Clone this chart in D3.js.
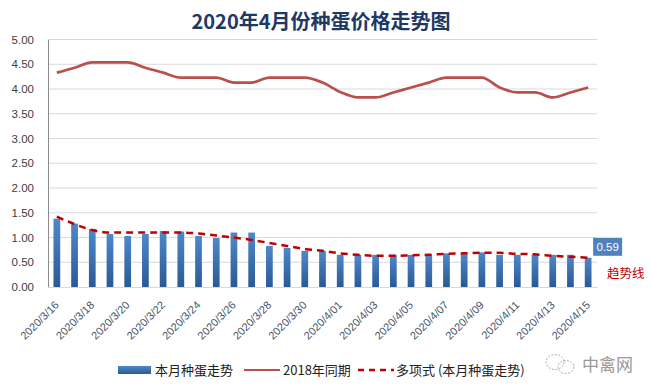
<!DOCTYPE html>
<html><head><meta charset="utf-8">
<script src="https://cdn.jsdelivr.net/npm/d3@7/dist/d3.min.js"></script>
<style>html,body{margin:0;padding:0;background:#fff;}svg{display:block;}</style>
</head><body>
<script>
const dates = ["2020/3/16","2020/3/17","2020/3/18","2020/3/19","2020/3/20","2020/3/21","2020/3/22","2020/3/23","2020/3/24","2020/3/25","2020/3/26","2020/3/27","2020/3/28","2020/3/29","2020/3/30","2020/3/31","2020/4/01","2020/4/02","2020/4/03","2020/4/04","2020/4/05","2020/4/06","2020/4/07","2020/4/08","2020/4/09","2020/4/10","2020/4/11","2020/4/12","2020/4/13","2020/4/14","2020/4/15"];
const thisMonth = [1.38,1.28,1.17,1.07,1.03,1.07,1.13,1.12,1.03,0.99,1.10,1.10,0.83,0.79,0.73,0.73,0.65,0.65,0.65,0.65,0.65,0.65,0.68,0.67,0.70,0.65,0.65,0.65,0.65,0.65,0.59];
const sameTime2018 = [4.33,4.43,4.54,4.54,4.54,4.43,4.33,4.23,4.23,4.23,4.13,4.13,4.23,4.23,4.23,4.13,3.94,3.83,3.83,3.93,4.03,4.13,4.23,4.23,4.23,4.03,3.93,3.93,3.83,3.93,4.03];
const trend = [1.42,1.27,1.15,1.10,1.10,1.10,1.10,1.10,1.08,1.04,1.00,0.95,0.89,0.83,0.77,0.73,0.68,0.65,0.63,0.63,0.64,0.65,0.67,0.68,0.69,0.69,0.67,0.66,0.63,0.61,0.59];
const yTicks = [0,0.5,1,1.5,2,2.5,3,3.5,4,4.5,5];
const seriesNames = ["本月种蛋走势","2018年同期","多项式 (本月种蛋走势)"];
const title = "2020年4月份种蛋价格走势图";

const W = 651, H = 391;
const svg = d3.select("body").append("svg").attr("width", W).attr("height", H);
const defs = svg.append("defs");
const grad = defs.append("linearGradient").attr("id","barGrad").attr("x1",0).attr("y1",0).attr("x2",0).attr("y2",1);
grad.append("stop").attr("offset","0%").attr("stop-color","#4e88cb");
grad.append("stop").attr("offset","100%").attr("stop-color","#2a5a93");
const gradL = defs.append("linearGradient").attr("id","legGrad").attr("x1",0).attr("y1",0).attr("x2",0).attr("y2",1);
gradL.append("stop").attr("offset","0%").attr("stop-color","#4e88cb");
gradL.append("stop").attr("offset","100%").attr("stop-color","#2a5a93");

const L = 48, R = 597, T = 39.5, B = 287;
const x = d3.scaleBand().domain(dates).range([L, R]).paddingInner(0.62).paddingOuter(0.31);
const y = d3.scaleLinear().domain([0, 5]).range([B, T]);
const cx = d => x(d) + x.bandwidth()/2;

// title
svg.append("text").attr("x", 321).attr("y", 29).attr("text-anchor","middle")
  .attr("font-family","'Noto Sans CJK SC',sans-serif").attr("font-weight","bold")
  .attr("font-size", 20).attr("fill","#203864").text(title);

// gridlines
svg.append("g").selectAll("line").data(yTicks.filter(v=>v>0)).join("line")
  .attr("x1", L).attr("x2", R).attr("y1", d=>y(d)).attr("y2", d=>y(d))
  .attr("stroke","#d9d9d9").attr("stroke-width",1);

// y axis
const yAxis = d3.axisLeft(y).tickValues(yTicks).tickFormat(d3.format(".2f")).tickSize(0).tickPadding(14);
const gy = svg.append("g").attr("transform",`translate(${L},0)`).call(yAxis);
gy.select(".domain").attr("stroke","#8c8c8c");
gy.selectAll("text").attr("font-family","'Liberation Sans',Arial,sans-serif").attr("font-size",11.5).attr("fill","#404040");

// x axis
const xAxis = d3.axisBottom(x).tickValues(dates.filter((d,i)=>i%2===0)).tickSize(0).tickFormat(d=>d);
const gx = svg.append("g").attr("transform",`translate(0,${B})`).call(xAxis);
gx.select(".domain").attr("stroke","#d9d9d9");
gx.selectAll("text").attr("font-family","'Liberation Sans',Arial,sans-serif").attr("font-size",11)
  .attr("fill","#44546a").attr("text-anchor","end").attr("dy","0.35em")
  .attr("transform","translate(0,16) rotate(-45)").attr("y",0).attr("x",0);

// bars
svg.append("g").selectAll("rect").data(thisMonth).join("rect")
  .attr("x",(d,i)=>x(dates[i])).attr("width",x.bandwidth())
  .attr("y",d=>y(d)).attr("height",d=>B-y(d)).attr("fill","url(#barGrad)");

// 2018 line
const line2018 = d3.line().x((d,i)=>cx(dates[i])).y(d=>y(d)).curve(d3.curveMonotoneX);
svg.append("path").datum(sameTime2018).attr("d",line2018).attr("fill","none")
  .attr("stroke","#b9504c").attr("stroke-width",2.75).attr("stroke-linejoin","round");

// trend line
const lineTrend = d3.line().x((d,i)=>cx(dates[i])).y(d=>y(d)).curve(d3.curveMonotoneX);
svg.append("path").datum(trend).attr("d",lineTrend).attr("fill","none")
  .attr("stroke","#c00000").attr("stroke-width",2.5).attr("stroke-dasharray","7,5");

// value label for last bar
const lastI = thisMonth.length-1;
const lx = cx(dates[lastI]) + 5, ly = y(thisMonth[lastI]) - 20;
svg.append("rect").attr("x",lx).attr("y",ly).attr("width",29).attr("height",18).attr("fill","#4f81bd");
svg.append("text").attr("x",lx+14.5).attr("y",ly+13).attr("text-anchor","middle")
  .attr("font-family","'Liberation Sans',Arial,sans-serif").attr("font-size",11.5).attr("fill","#fff")
  .text(d3.format(".2f")(thisMonth[lastI]));
svg.append("text").attr("x",607).attr("y",278).attr("font-family","'Noto Sans CJK SC',sans-serif")
  .attr("font-size",12.5).attr("fill","#c00000").text("趋势线");

// legend
const lg = svg.append("g").attr("font-family","'Noto Sans CJK SC',sans-serif").attr("font-size",13).attr("fill","#222");
lg.append("rect").attr("x",118).attr("y",366).attr("width",33).attr("height",8).attr("fill","url(#legGrad)");
lg.append("text").attr("x",155).attr("y",375).text(seriesNames[0]);
lg.append("line").attr("x1",244).attr("x2",280).attr("y1",370).attr("y2",370).attr("stroke","#b9504c").attr("stroke-width",2);
lg.append("text").attr("x",283).attr("y",375).text(seriesNames[1]);
lg.append("line").attr("x1",358).attr("x2",394).attr("y1",370).attr("y2",370).attr("stroke","#c00000").attr("stroke-width",2.5).attr("stroke-dasharray","6,5");
lg.append("text").attr("x",396).attr("y",375).text(seriesNames[2]);

// watermark
const wm = svg.append("g").attr("fill","none").attr("stroke","#aaa").attr("stroke-width",1).attr("stroke-dasharray","2,1.5");
wm.append("ellipse").attr("cx",555).attr("cy",362).attr("rx",9).attr("ry",7.5);
wm.append("ellipse").attr("cx",566).attr("cy",367).attr("rx",8).attr("ry",6.5);
svg.append("text").attr("x",582).attr("y",371).attr("font-family","'Noto Sans CJK SC',sans-serif")
  .attr("font-size",17).attr("fill","#9a9a9a").text("中禽网");
</script>
</body></html>
